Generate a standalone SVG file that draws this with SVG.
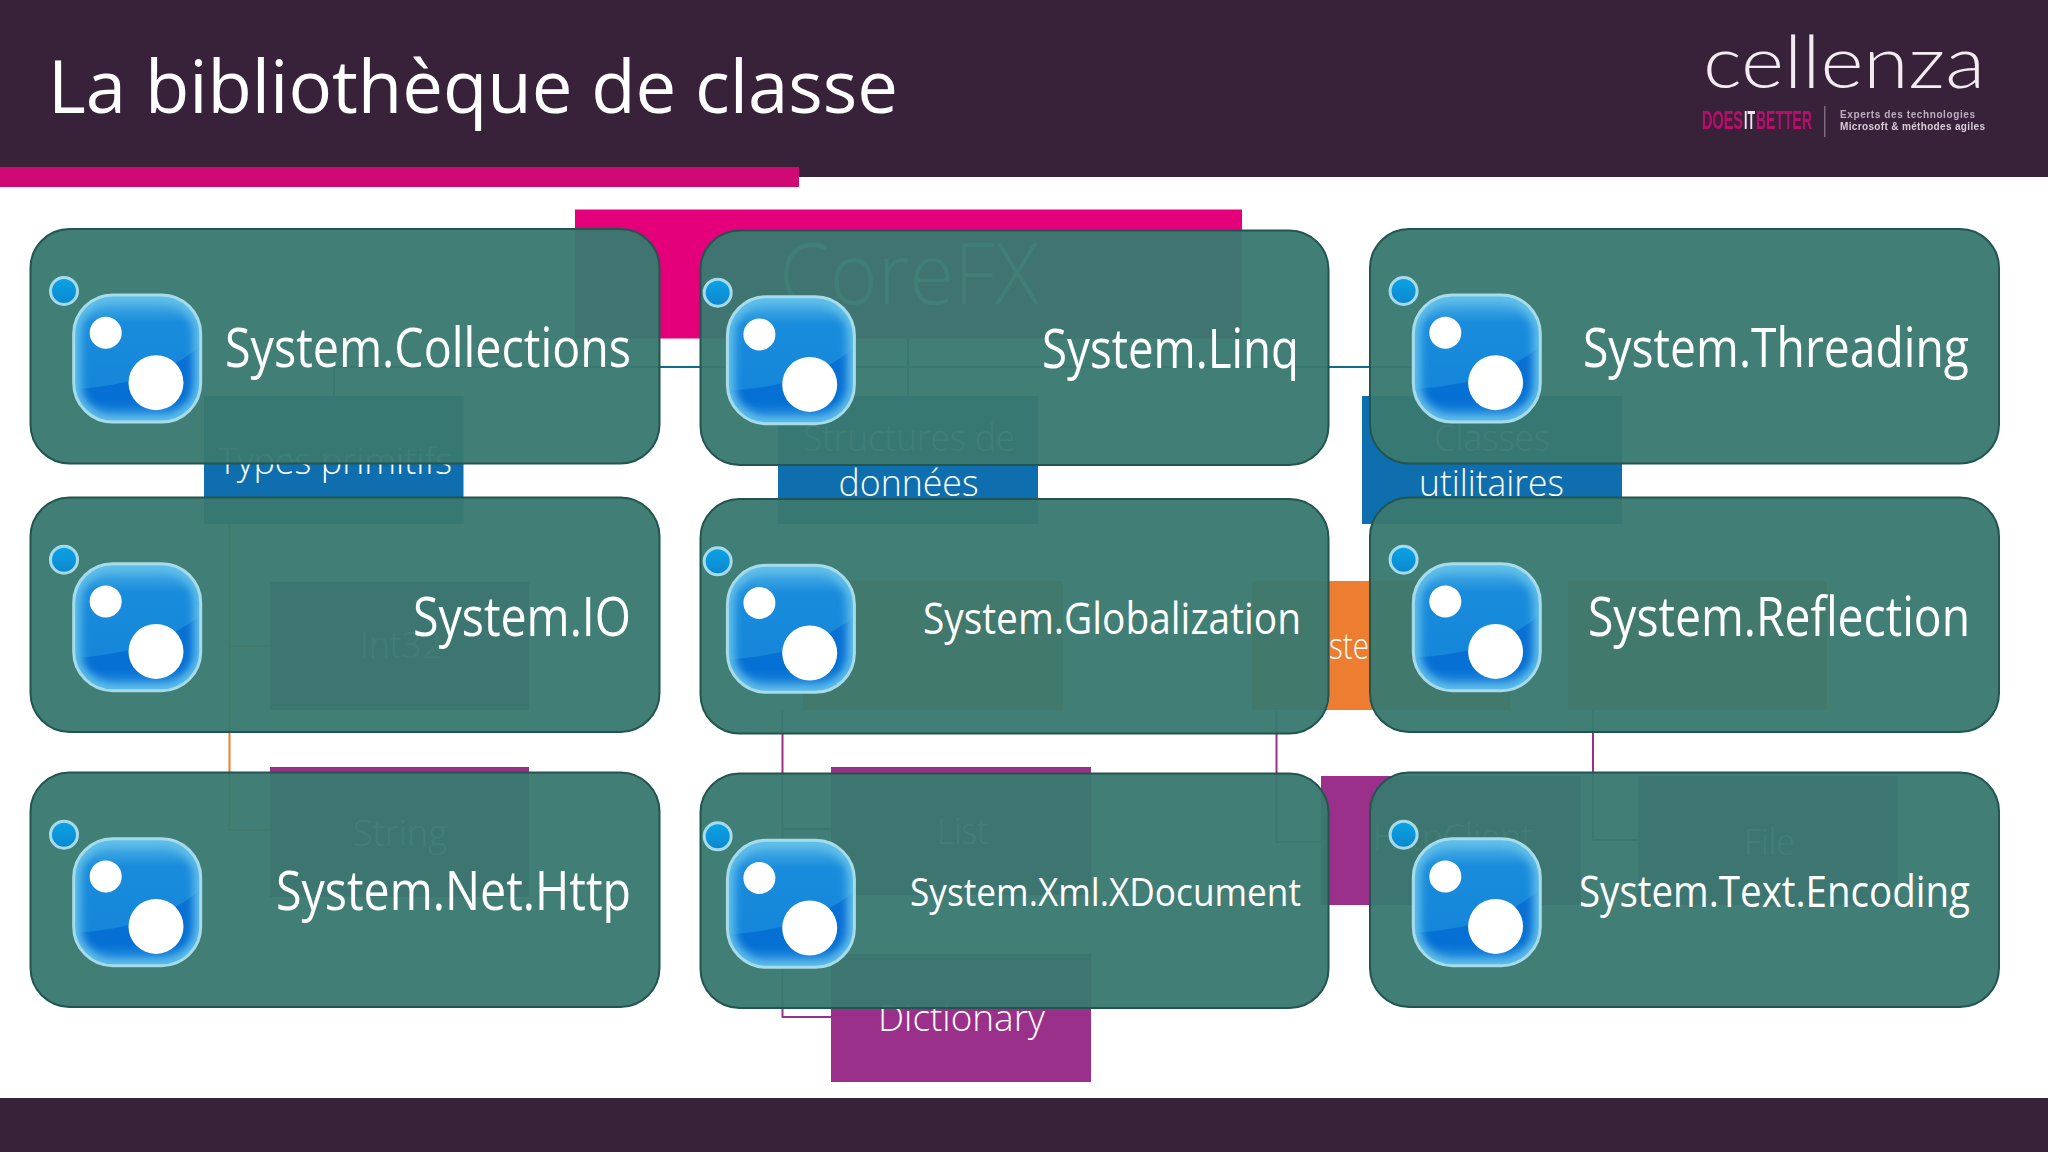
<svg xmlns="http://www.w3.org/2000/svg" width="2048" height="1152" viewBox="0 0 2048 1152">
<style>
text{font-family:"Open Sans","Noto Sans","Liberation Sans",sans-serif;font-weight:300;fill:#fff}
.card{fill:#39796f;fill-opacity:.96;stroke:#22554f;stroke-width:2}
.blue{fill:#0f6fae}.orange{fill:#ed7d31}.purple{fill:#9b308a}.pink{fill:#e3007a}
.lbl{font-size:37px}.name{font-weight:400}
.c{fill:none;stroke-width:2}
.ct{stroke:#0f6f8a}.co{stroke:#ed7d31}.cp{stroke:#9b308a}
.lg{font-family:"Liberation Sans",sans-serif;font-weight:700}
</style>
<defs>
<linearGradient id="g1" x1="0" y1="0" x2="0" y2="1"><stop offset="0" stop-color="#5bbbe8"/><stop offset=".22" stop-color="#1a8cdc"/><stop offset="1" stop-color="#1283d8"/></linearGradient>
<linearGradient id="g2" x1="0" y1="0" x2="0" y2="1"><stop offset="0" stop-color="#0aa4e6"/><stop offset="1" stop-color="#0d86cf"/></linearGradient>
<linearGradient id="g3" x1="0" y1="0" x2="0" y2="1"><stop offset="0" stop-color="#0a6fd3"/><stop offset=".7" stop-color="#0570d4"/><stop offset="1" stop-color="#2f94e0"/></linearGradient>
<clipPath id="ic"><rect x="1" y="1" width="127" height="127" rx="39"/></clipPath>
<filter id="soft" x="-20%" y="-20%" width="140%" height="140%"><feGaussianBlur stdDeviation="4"/></filter>
<filter id="logo" x="-5%" y="-10%" width="110%" height="120%"><feGaussianBlur stdDeviation=".6"/></filter>
<g id="icon">
<circle cx="-8.700" cy="-3" r="13.500" fill="url(#g2)" stroke="#a6dcea" stroke-width="3"/>
<g clip-path="url(#ic)">
<rect x="0" y="0" width="129" height="129" fill="url(#g1)"/>
<path d="M0,95C40,93 90,85 130,50V130H0Z" fill="url(#g3)"/>
<rect x="1" y="1" width="127" height="127" rx="39" fill="none" stroke="#62c0ea" stroke-width="14" filter="url(#soft)"/>
</g>
<rect x="1" y="1" width="127" height="127" rx="39" fill="none" stroke="#a6dcea" stroke-width="3"/>
<circle cx="33" cy="38.700" r="16" fill="#fff"/>
<circle cx="83.300" cy="88.700" r="27.500" fill="#fff"/>
</g>
</defs>
<rect width="2048" height="1152" fill="#fff"/>
<g id="header">
<rect width="2048" height="177" fill="#38223a"/>
<rect y="167" width="799" height="20" fill="#cf0a75"/>
<text x="48" y="113" font-size="74" textLength="850" lengthAdjust="spacingAndGlyphs" style="font-weight:400">La bibliothèque de classe</text>
</g>
<g id="logo" filter="url(#logo)">
<text x="1703" y="88" font-size="72" textLength="282" lengthAdjust="spacingAndGlyphs" style="font-family:Lato,sans-serif;font-weight:300;fill:#f3eaf2">cellenza</text>
<text class="lg" x="1702" y="129" font-size="25" textLength="41" lengthAdjust="spacingAndGlyphs" style="fill:#b80f6a">DOES</text>
<text class="lg" x="1744" y="129" font-size="25" textLength="11" lengthAdjust="spacingAndGlyphs" style="fill:#f0e6ee">IT</text>
<text class="lg" x="1756" y="129" font-size="25" textLength="56" lengthAdjust="spacingAndGlyphs" style="fill:#b80f6a">BETTER</text>
<rect x="1824" y="106" width="1.500" height="31" fill="#7a6a7c"/>
<text class="lg" x="1840" y="118" font-size="10" textLength="135" style="fill:#bdaec0">Experts des technologies</text>
<text class="lg" x="1840" y="130" font-size="10" textLength="145" style="fill:#d8ccd8">Microsoft &amp; méthodes agiles</text>
</g>
<rect id="footer" y="1098" width="2048" height="54" fill="#38223a"/>
<g id="connectors">
<path class="c ct" d="M908,338V367M334,396V367H1492V396M908,367V396"/>
<path class="c co" d="M270,646H229.500M229.500,524V830H270"/>
<path class="c cp" d="M782.500,711V1017H831M782.500,829H831"/>
<path class="c cp" d="M1276.500,711V842H1321"/>
<path class="c cp" d="M1593,710V840H1638"/>
</g>
<g id="corefx"><rect class="pink" x="575" y="209.500" width="667" height="129"/><text x="779" y="304" font-size="85" textLength="260" lengthAdjust="spacingAndGlyphs">CoreFX</text></g>
<g id="types-primitifs"><rect class="blue" x="204" y="396" width="259.500" height="128"/><text class="lbl" x="218" y="474" textLength="234" lengthAdjust="spacingAndGlyphs">Types primitifs</text></g>
<g id="structures"><rect class="blue" x="778" y="396" width="260" height="128"/><text class="lbl" x="803" y="451" textLength="212" lengthAdjust="spacingAndGlyphs">Structures de</text><text class="lbl" x="838.500" y="496" textLength="140" lengthAdjust="spacingAndGlyphs">données</text></g>
<g id="classes"><rect class="blue" x="1362" y="396" width="260" height="128"/><text class="lbl" x="1434" y="451" textLength="116" lengthAdjust="spacingAndGlyphs">Classes</text><text class="lbl" x="1419" y="496" textLength="145" lengthAdjust="spacingAndGlyphs">utilitaires</text></g>
<g id="int32"><rect class="purple" x="270" y="582" width="259" height="128"/><text class="lbl" x="360" y="658" textLength="82" lengthAdjust="spacingAndGlyphs">Int32</text></g>
<g id="orange-2"><rect class="orange" x="803" y="581" width="260" height="129"/></g>
<g id="orange-3"><rect class="orange" x="1252" y="581" width="258" height="129"/><text class="lbl" x="1329" y="659" textLength="40" lengthAdjust="spacingAndGlyphs">ste</text></g>
<g id="orange-4"><rect class="orange" x="1568" y="581" width="259" height="129"/></g>
<g id="string"><rect class="purple" x="270" y="767" width="259" height="130"/><text class="lbl" x="353" y="846" textLength="94" lengthAdjust="spacingAndGlyphs">String</text></g>
<g id="list"><rect class="purple" x="831" y="767" width="260" height="128"/><text class="lbl" x="937" y="844" textLength="51" lengthAdjust="spacingAndGlyphs">List</text></g>
<g id="dictionary"><rect class="purple" x="831" y="954" width="260" height="128"/><text class="lbl" x="878" y="1031" textLength="167" lengthAdjust="spacingAndGlyphs">Dictionary</text></g>
<g id="httpclient"><rect class="purple" x="1321" y="776" width="260" height="129"/><text class="lbl" x="1373" y="850" textLength="160" lengthAdjust="spacingAndGlyphs">HttpClient</text></g>
<g id="file"><rect class="purple" x="1638" y="776" width="260" height="129"/><text class="lbl" x="1744" y="855" textLength="51" lengthAdjust="spacingAndGlyphs">File</text></g>
<g id="pkg-collections"><rect class="card" x="30.500" y="229" width="629" height="234.500" rx="39"/><use href="#icon" x="72.700" y="294"/><text class="name" x="225" y="367" font-size="54" textLength="406" lengthAdjust="spacingAndGlyphs">System.Collections</text></g>
<g id="pkg-linq"><rect class="card" x="700.500" y="230.500" width="628" height="234.500" rx="39"/><use href="#icon" x="726.400" y="295.700"/><text class="name" x="1042" y="368" font-size="54" textLength="257" lengthAdjust="spacingAndGlyphs">System.Linq</text></g>
<g id="pkg-threading"><rect class="card" x="1370" y="229" width="629" height="234.500" rx="39"/><use href="#icon" x="1412.300" y="294"/><text class="name" x="1583" y="367" font-size="54" textLength="386" lengthAdjust="spacingAndGlyphs">System.Threading</text></g>
<g id="pkg-io"><rect class="card" x="30.500" y="497.500" width="629" height="234.500" rx="39"/><use href="#icon" x="72.700" y="562.700"/><text class="name" x="413" y="636" font-size="54" textLength="218" lengthAdjust="spacingAndGlyphs">System.IO</text></g>
<g id="pkg-globalization"><rect class="card" x="700.500" y="499" width="628" height="234.500" rx="39"/><use href="#icon" x="726.400" y="564.300"/><text class="name" x="923" y="634" font-size="44" textLength="378" lengthAdjust="spacingAndGlyphs">System.Globalization</text></g>
<g id="pkg-reflection"><rect class="card" x="1370" y="497.500" width="629" height="234.500" rx="39"/><use href="#icon" x="1412.300" y="562.700"/><text class="name" x="1588" y="636" font-size="54" textLength="382" lengthAdjust="spacingAndGlyphs">System.Reflection</text></g>
<g id="pkg-http"><rect class="card" x="30.500" y="772.500" width="629" height="234.500" rx="39"/><use href="#icon" x="72.700" y="837.700"/><text class="name" x="276" y="910" font-size="54" textLength="355" lengthAdjust="spacingAndGlyphs">System.Net.Http</text></g>
<g id="pkg-xdocument"><rect class="card" x="700.500" y="773.500" width="628" height="234.500" rx="39"/><use href="#icon" x="726.400" y="839.300"/><text class="name" x="910" y="906" font-size="39" textLength="391" lengthAdjust="spacingAndGlyphs">System.Xml.XDocument</text></g>
<g id="pkg-encoding"><rect class="card" x="1370" y="772.500" width="629" height="234.500" rx="39"/><use href="#icon" x="1412.300" y="837.700"/><text class="name" x="1579" y="907" font-size="44" textLength="391" lengthAdjust="spacingAndGlyphs">System.Text.Encoding</text></g>
</svg>
